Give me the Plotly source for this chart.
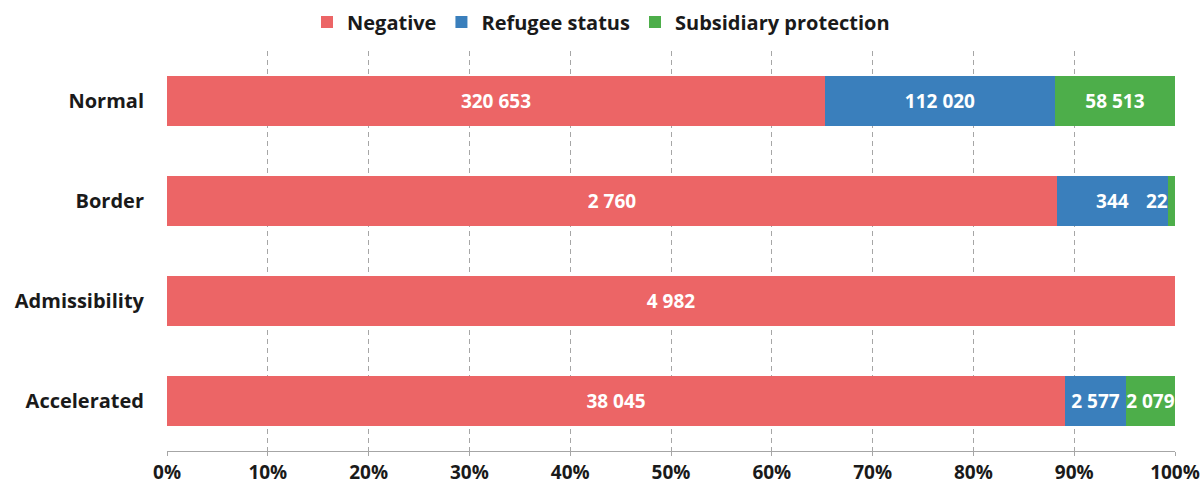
import plotly.graph_objects as go

RED = "#EC6566"
BLUE = "#3A7FBC"
GREEN = "#4DAE4A"
GRID = "#A6A6A6"
FAMILY = "'Open Sans', sans-serif"
FONT = dict(family=FAMILY, color="#1A1A1A", size=19)

procedures = ["Normal", "Border", "Admissibility", "Accelerated"]
negative = [320653, 2760, 4982, 38045]
refugee = [112020, 344, 0, 2577]
subsidiary = [58513, 22, 0, 2079]


def fmt(v):
    return f"{v:,}".replace(",", " ") if v else ""


LABEL_FONT = dict(family=FAMILY, size=19, color="white", weight="bold")

fig = go.Figure()
for name, vals, color in [
    ("Negative", negative, RED),
    ("Refugee status", refugee, BLUE),
    ("Subsidiary protection", subsidiary, GREEN),
]:
    labels = [fmt(v) for v in vals]
    if name == "Subsidiary protection":
        # tiny slice: label drawn as annotation flush to the right edge instead
        labels = [t if v > 100 else "" for t, v in zip(labels, vals)]
    fig.add_trace(
        go.Bar(
            name=name,
            y=procedures,
            x=vals,
            orientation="h",
            marker=dict(color=color, line=dict(width=0)),
            text=labels,
            textposition="inside",
            insidetextanchor="middle",
            textangle=0,
            constraintext="none",
            textfont=LABEL_FONT,
            hoverinfo="skip",
        )
    )

# labels for slices too small to hold their own text
for cat, s in zip(procedures, subsidiary):
    if 0 < s <= 100:
        fig.add_annotation(
            x=100, y=cat, xref="x", yref="y",
            text=fmt(s), showarrow=False, xanchor="right", xshift=-5,
            font=LABEL_FONT,
        )

fig.update_layout(
    barmode="stack",
    barnorm="percent",
    bargap=0.5,
    width=1202,
    height=486,
    paper_bgcolor="white",
    plot_bgcolor="white",
    font=FONT,
    margin=dict(l=167, r=27, t=51, b=35, autoexpand=False),
    showlegend=True,
    legend=dict(
        orientation="h", xref="container", yref="container",
        x=0.5, xanchor="center", y=1 - 22 / 486, yanchor="middle",
        font=dict(size=20, weight="bold"),
        itemwidth=30, traceorder="normal",
    ),
    xaxis=dict(
        range=[0, 100],
        dtick=10,
        ticksuffix="%",
        showgrid=True,
        gridcolor=GRID,
        griddash="5px,4px",
        gridwidth=1,
        zeroline=False,
        showline=True,
        linecolor=GRID,
        linewidth=1,
        ticks="outside",
        ticklen=4,
        tickcolor=GRID,
        automargin=False,
        ticklabeloverflow="allow",
        tickfont=dict(size=19, weight="bold"),
    ),
    yaxis=dict(
        categoryorder="array",
        categoryarray=procedures,
        autorange="reversed",
        showgrid=False,
        zeroline=False,
        ticks="",
        automargin=False,
        ticklabelstandoff=22,
        tickfont=dict(size=20, weight="bold"),
    ),
)

# drop the default 8px page margin so the figure fills the window exactly
fig.write_html(
    "out.html",
    config={"displayModeBar": False},
    post_script="document.body.style.margin='0';document.body.style.overflow='hidden';",
)
